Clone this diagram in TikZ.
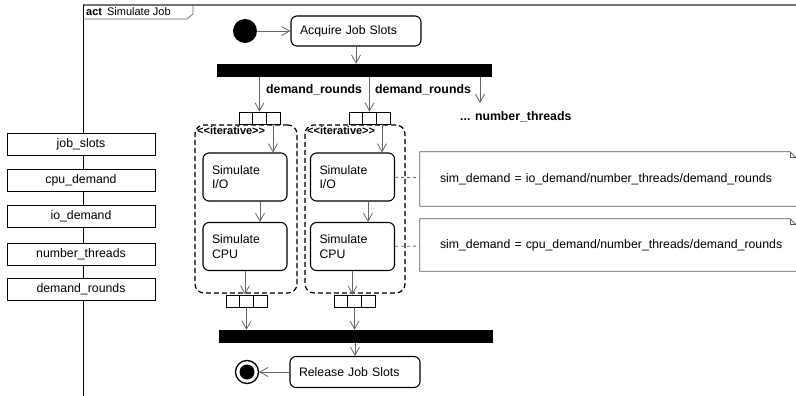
\documentclass[tikz,border=0pt]{standalone}
\usepackage{fontspec}
\setmainfont{Liberation Sans}
\usetikzlibrary{arrows.meta}

\begin{document}
\begin{tikzpicture}[x=1pt, y=-1pt,
font=\fontsize{12.3}{14.5}\selectfont,
flow/.style={draw=black!60, line width=0.8pt, -{Straight Barb[length=8pt, width=9pt]}},
startnode/.style={circle, fill=black, minimum size=24pt, inner sep=0pt},
endnode/.style={circle, draw=black, line width=1.3pt, fill=white, minimum size=23pt, inner sep=0pt},
enddot/.style={circle, fill=black, minimum size=15pt, inner sep=0pt},
action/.style={rectangle, rounded corners=6pt, draw=black, line width=1.1pt, fill=white,
  minimum height=48pt, text width=66pt, inner xsep=9pt, align=left},
bar/.style={rectangle, fill=black, minimum height=13pt, inner sep=0pt},
pinbox/.style={rectangle, draw=black, line width=0.9pt, fill=white, minimum width=41pt, minimum height=12pt, inner sep=0pt,
  path picture={
    \draw[line width=0.9pt] ([xshift=-6.8pt]path picture bounding box.north) -- ([xshift=-6.8pt]path picture bounding box.south);
    \draw[line width=0.9pt] ([xshift=6.8pt]path picture bounding box.north) -- ([xshift=6.8pt]path picture bounding box.south);}},
region/.style={rectangle, draw=black, line width=1.2pt, dash pattern=on 5pt off 3pt, rounded corners=9pt},
param/.style={rectangle, draw=black, line width=0.9pt, fill=white, minimum width=148pt, minimum height=22pt, inner sep=0pt},
notebox/.style={rectangle, minimum width=381pt, minimum height=54pt, text width=341pt, inner xsep=20pt, align=left},
noteline/.style={draw=black!65, line width=0.8pt},
anchorline/.style={draw=black!60, line width=0.8pt, dash pattern=on 3pt off 3pt},
lbl/.style={font=\fontsize{12.3}{14.5}\selectfont\bfseries, inner sep=0pt},
iter/.style={font=\fontsize{11}{13}\selectfont\bfseries, inner sep=0pt},
]
\useasboundingbox (0,0) rectangle (796,396);
\clip (0,0) rectangle (796,396);

% frame
\draw[black!55, line width=1.6pt] (83,5) -- (796,5);
\draw[line width=0.8pt] (83,5) -- (83,396);
\draw[black!60, line width=0.7pt] (193,5) -- (193,14) -- (187,19) -- (83,19);
\node[anchor=west, inner sep=0pt, font=\fontsize{11}{13}\selectfont] (frametitle) at (86,12) {\textbf{act}\hspace{5pt}Simulate Job};

% parameters
\node[param] (slots) at (81,144) {job\_slots};
\node[param] (cpudem) at (81,180) {cpu\_demand};
\node[param] (iodem) at (81,216.5) {io\_demand};
\node[param] (threads) at (81,254.5) {number\_threads};
\node[param] (rounds) at (81,289.5) {demand\_rounds};

% top
\node[startnode] (start) at (245,31) {};
\node[action, minimum height=30pt, text width=112pt] (acquire) at (356,31) {Acquire Job Slots};
\node[bar, minimum width=275pt] (fork) at (354.5,70.5) {};
\draw[flow] (start) -- (acquire);
\draw[flow] (acquire.south) -- (acquire.south |- fork.north);

% regions
\node[region, minimum width=102pt, minimum height=168pt] (regA) at (246,209) {};
\node[region, minimum width=100pt, minimum height=168pt] (regB) at (355,209) {};
\node[iter, anchor=west] (iterA) at (197,131) {<\kern0pt<iterative>\kern0pt>};
\node[iter, anchor=west] (iterB) at (307,131) {<\kern0pt<iterative>\kern0pt>};

\node[pinbox] (inA) at (259.5,118) {};
\node[pinbox] (inB) at (369.5,118) {};
\node[pinbox] (outA) at (246.5,301) {};
\node[pinbox] (outB) at (354.5,301) {};

\node[action] (ioA) at (245,177) {Simulate\\I/O};
\node[action] (cpuA) at (245,246.5) {Simulate\\CPU};
\node[action] (ioB) at (352.5,177) {Simulate\\I/O};
\node[action] (cpuB) at (352.5,246.5) {Simulate\\CPU};

% fork outputs
\coordinate (thr) at (480,103);
\draw[flow] (fork.south -| inA.north) -- (inA.north);
\draw[flow] (fork.south -| inB.north) -- (inB.north);
\draw[flow] (fork.south -| thr) -- (thr);
\node[lbl, anchor=west] (roundsA) at (266,90) {demand\_rounds};
\node[lbl, anchor=west] (roundsB) at (375,90) {demand\_rounds};
\node[lbl, anchor=west] (thrlbl) at (460,117) {... number\_threads};

% inside the regions
\draw[flow] ([xshift=13.5pt]inA.south) -- ([xshift=13.5pt]inA.south |- ioA.north);
\draw[flow] ([xshift=15pt]ioA.south) -- ([xshift=15pt]ioA.south |- cpuA.north);
\draw[flow] (cpuA.south) -- (cpuA.south |- outA.north);
\draw[flow] ([xshift=12.5pt]inB.south) -- ([xshift=12.5pt]inB.south |- ioB.north);
\draw[flow] ([xshift=15.5pt]ioB.south) -- ([xshift=15.5pt]ioB.south |- cpuB.north);
\draw[flow] (cpuB.south) -- (cpuB.south |- outB.north);

% join
\node[bar, minimum width=274pt] (join) at (356,336.5) {};
\node[action, minimum height=31pt, text width=112pt] (release) at (355,372) {Release Job Slots};
\node[endnode] (stop) at (247,372) {};
\node[enddot] (stopdot) at (stop) {};
\draw[flow] (release) -- (stop);
\draw[flow] (outA.south) -- (outA.south |- join.north);
\draw[flow] (outB.south) -- (outB.south |- join.north);
\draw[flow] (join.south -| release.north) -- (release.north);

% notes
\node[notebox] (noteio) at (610.5,179) {sim\_demand = io\_demand/number\_threads/demand\_rounds};
\node[notebox, minimum height=52pt] (notecpu) at (610.5,245) {sim\_demand = cpu\_demand/number\_threads/demand\_rounds};
\draw[noteline] (noteio.north west) -- ([xshift=-11pt]noteio.north east) -- ([yshift=-11pt]noteio.north east) -- (noteio.south east) -- (noteio.south west) -- cycle;
\draw[noteline] ([xshift=-11pt]noteio.north east) -- ([xshift=-11pt, yshift=-6pt]noteio.north east) -- ([xshift=-5pt, yshift=-6pt]noteio.north east);
\draw[noteline] (notecpu.north west) -- ([xshift=-11pt]notecpu.north east) -- ([yshift=-11pt]notecpu.north east) -- (notecpu.south east) -- (notecpu.south west) -- cycle;
\draw[noteline] ([xshift=-11pt]notecpu.north east) -- ([xshift=-11pt, yshift=-6pt]notecpu.north east) -- ([xshift=-5pt, yshift=-6pt]notecpu.north east);
\draw[anchorline] (ioB) -- (noteio);
\draw[anchorline] (cpuB) -- (notecpu);
\end{tikzpicture}
\end{document}
